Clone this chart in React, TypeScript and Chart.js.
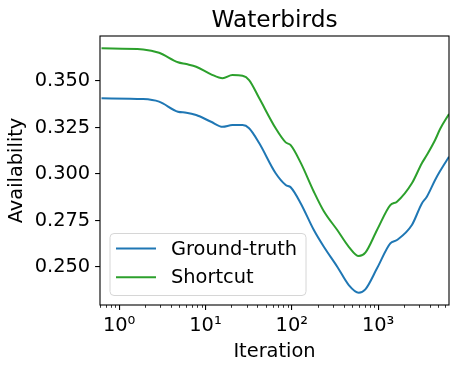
import { useEffect, useRef } from "react";
import { Chart, registerables } from "chart.js";

Chart.register(...registerables);

const iterations = [0.625, 1.9, 2.9, 4.8, 6, 7.8, 11.6, 15.8, 20.5, 26.9, 32, 42, 65, 85, 97, 127, 180, 235, 336, 457, 596, 711, 971, 1383, 1652, 2460, 3209, 3665, 4570, 5220, 6620];
const groundTruth = [0.3407, 0.3403, 0.3389, 0.3335, 0.333, 0.3317, 0.3281, 0.3254, 0.3263, 0.3263, 0.3246, 0.3165, 0.3004, 0.2941, 0.2929, 0.2842, 0.2699, 0.2609, 0.2502, 0.2403, 0.2362, 0.238, 0.2493, 0.2627, 0.2645, 0.2726, 0.2842, 0.2878, 0.2968, 0.3016, 0.3093];
const shortcut = [0.3676, 0.367, 0.3652, 0.3601, 0.3591, 0.3577, 0.3536, 0.3515, 0.3532, 0.3528, 0.3505, 0.3407, 0.3246, 0.317, 0.3155, 0.306, 0.2905, 0.28, 0.2699, 0.2609, 0.2559, 0.2577, 0.2699, 0.2833, 0.2851, 0.295, 0.3058, 0.3102, 0.3183, 0.3242, 0.3323];

const seriesLabels = ["Ground-truth", "Shortcut"];
const seriesColors = ["#1f77b4", "#2ca02c"];
const xMajorTicks = [1, 10, 100, 1000];
const yTicks = [0.25, 0.275, 0.3, 0.325, 0.35];
const xRange = [0.625, 6620];
const yRange = [0.2296, 0.3742];
const titleText = "Waterbirds";
const xLabel = "Iteration";
const yLabel = "Availability";

const SUP = ["⁰", "¹", "²", "³", "⁴", "⁵", "⁶", "⁷", "⁸", "⁹"];
const FONT = "DejaVu Sans";
const FS = 19.4;

const mplPlugin = {
  id: "mplDecor",
  afterDraw(chart: any) {
    const { ctx, chartArea: a, scales } = chart;
    ctx.save();
    // frame
    ctx.strokeStyle = "#000";
    ctx.lineWidth = 1.1;
    ctx.strokeRect(a.left, a.top, a.right - a.left, a.bottom - a.top);
    // minor ticks on log x axis
    const xs = scales.x;
    ctx.lineWidth = 0.8;
    for (let d = -1; d <= 4; d++) {
      for (let k = 2; k <= 9; k++) {
        const v = k * Math.pow(10, d);
        if (v < xs.min || v > xs.max) continue;
        const px = Math.round(xs.getPixelForValue(v)) + 0.5;
        ctx.beginPath();
        ctx.moveTo(px, a.bottom);
        ctx.lineTo(px, a.bottom + 2.8);
        ctx.stroke();
      }
    }
    // title
    ctx.fillStyle = "#000";
    ctx.font = `23.3px "${FONT}"`;
    ctx.textAlign = "center";
    ctx.textBaseline = "alphabetic";
    ctx.fillText(titleText, (a.left + a.right) / 2, a.top - 8.7);
    // legend
    const lx = a.left + 10;
    const lw = 196;
    const lh = 62;
    const ly = a.bottom - 9.5 - lh;
    ctx.beginPath();
    const r = 4;
    ctx.moveTo(lx + r, ly);
    ctx.arcTo(lx + lw, ly, lx + lw, ly + lh, r);
    ctx.arcTo(lx + lw, ly + lh, lx, ly + lh, r);
    ctx.arcTo(lx, ly + lh, lx, ly, r);
    ctx.arcTo(lx, ly, lx + lw, ly, r);
    ctx.closePath();
    ctx.fillStyle = "rgba(255,255,255,0.8)";
    ctx.fill();
    ctx.strokeStyle = "#d6d6d6";
    ctx.lineWidth = 1;
    ctx.stroke();
    chart.data.datasets.forEach((ds: any, i: number) => {
      const yy = ly + 15 + i * 28.7;
      ctx.strokeStyle = ds.borderColor;
      ctx.lineWidth = 2;
      ctx.beginPath();
      ctx.moveTo(lx + 6, yy);
      ctx.lineTo(lx + 46, yy);
      ctx.stroke();
      ctx.fillStyle = "#000";
      ctx.font = `${FS}px "${FONT}"`;
      ctx.textAlign = "left";
      ctx.textBaseline = "middle";
      ctx.fillText(ds.label, lx + 61, yy + 1);
    });
    ctx.restore();
  },
};

export default function App() {
  const ref = useRef<HTMLCanvasElement | null>(null);
  useEffect(() => {
    if (!ref.current) return;
    const datasets = [groundTruth, shortcut].map((vals, i) => ({
      label: seriesLabels[i],
      data: iterations.map((x, j) => ({ x, y: vals[j] })),
      borderColor: seriesColors[i],
      backgroundColor: seriesColors[i],
      borderWidth: 2,
      pointRadius: 0,
      cubicInterpolationMode: "monotone" as const,
      fill: false,
    }));
    const chart = new Chart(ref.current, {
      type: "line",
      data: { datasets },
      plugins: [mplPlugin],
      options: {
        animation: false,
        responsive: false,
        devicePixelRatio: 1,
        layout: { padding: { left: 0, right: 9, top: 36, bottom: 0 } },
        plugins: { legend: { display: false }, tooltip: { enabled: false }, title: { display: false } },
        scales: {
          x: {
            type: "logarithmic",
            min: xRange[0],
            max: xRange[1],
            afterBuildTicks: (s: any) => {
              s.ticks = xMajorTicks.map((v) => ({ value: v }));
            },
            afterFit: (s: any) => {
              s.height = 67;
            },
            ticks: {
              autoSkip: false,
              maxRotation: 0,
              padding: 4.9,
              color: "#000",
              font: { family: FONT, size: FS },
              callback: (v: any) => "10" + SUP[Math.round(Math.log10(Number(v)))],
            },
            grid: { display: true, drawOnChartArea: false, drawTicks: true, tickLength: 4.9, color: "#000", lineWidth: 1.1 },
            border: { display: false },
            title: { display: true, text: xLabel, color: "#000", font: { family: FONT, size: FS }, padding: { top: 0, bottom: 8.4 } },
          },
          y: {
            type: "linear",
            min: yRange[0],
            max: yRange[1],
            afterBuildTicks: (s: any) => {
              s.ticks = yTicks.map((v) => ({ value: v }));
            },
            afterFit: (s: any) => {
              s.width = 100;
            },
            ticks: {
              autoSkip: false,
              padding: 4.9,
              color: "#000",
              font: { family: FONT, size: FS },
              callback: (v: any) => Number(v).toFixed(3),
            },
            grid: { display: true, drawOnChartArea: false, drawTicks: true, tickLength: 4.9, color: "#000", lineWidth: 1.1 },
            border: { display: false },
            title: { display: true, text: yLabel, color: "#000", font: { family: FONT, size: FS }, padding: { top: 5.4, bottom: 0 } },
          },
        },
      },
    });
    return () => chart.destroy();
  }, []);
  return (
    <div style={{ position: "absolute", left: 0, top: 0, width: 458, height: 372, background: "#fff" }}>
      <canvas ref={ref} width={458} height={372} style={{ display: "block", width: 458, height: 372 }} />
    </div>
  );
}
